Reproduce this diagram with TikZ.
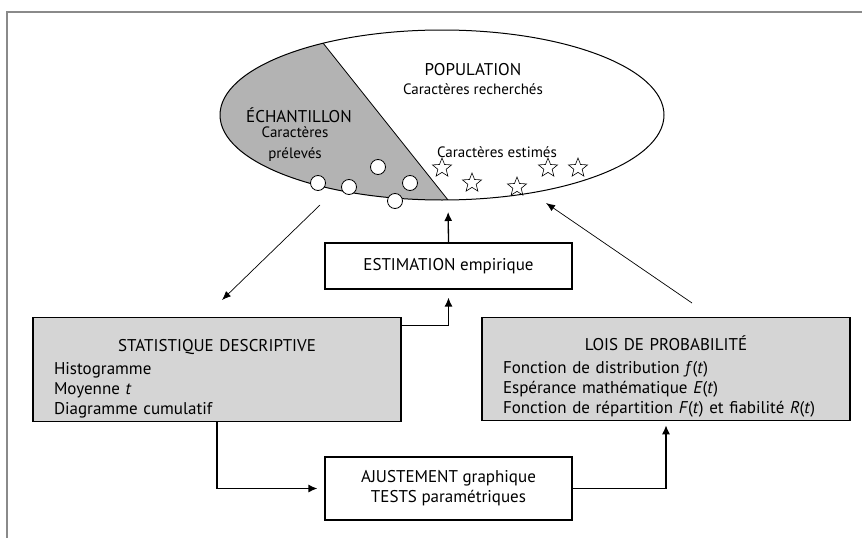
\documentclass[tikz,border=0pt]{standalone}
\usepackage{fontspec}
\setmainfont{PT Sans}
\usetikzlibrary{shapes.geometric,arrows.meta}
\definecolor{sampgrey}{HTML}{B3B3B3}
\definecolor{boxgrey}{HTML}{D5D5D5}
\definecolor{framegrey}{HTML}{8A8A8A}

\begin{document}
\begin{tikzpicture}[x=1pt, y=-1pt,
  whitebox/.style={draw, line width=1.2pt, minimum width=247pt, align=center,
    font=\fontsize{17}{20}\selectfont},
  greybox/.style={draw, line width=1.2pt, fill=boxgrey, text width=326pt,
    inner xsep=21pt, minimum height=99pt, align=left,
    font=\fontsize{17}{20}\selectfont},
  bigtxt/.style={font=\fontsize{17}{20}\selectfont},
  smalltxt/.style={font=\fontsize{15}{21}\selectfont, align=center},
  sampdot/.style={circle, draw, fill=white, line width=0.8pt, minimum size=15pt, inner sep=0pt},
  estar/.style={star, star points=5, star point ratio=2.3, draw, line width=0.6pt,
    minimum size=20pt, inner sep=0pt},
  flow/.style={line width=1.3pt, -{Latex[length=9pt,width=8pt]}},
  guess/.style={line width=0.7pt, -{Latex[length=9pt,width=7pt]}}
]
\useasboundingbox (0,0) rectangle (862,538);
\draw[framegrey, line width=2pt] (862,12) -- (7,12) -- (7,538);

%%% population and sample %%%
% path picture works from the centre of the node
\node[ellipse, draw, line width=1pt, minimum width=444pt, minimum height=170pt, inner sep=0pt,
  path picture={\fill[sampgrey] (-119,-72) -- (6,85) -- (-250,120) -- (-250,-110) -- cycle;
                \draw[line width=0.8pt] (-119,-72) -- (6,85);}] (pop) at (442,115) {};
\coordinate (popfoot) at (448,200);
\coordinate (sampout) at (320,205);
\coordinate (lawsin) at (546,203);

\node[bigtxt] (popname) at (473,70) {POPULATION};
\node[smalltxt] (popcar) at (473,89) {Caractères recherchés};
\node[bigtxt] (sampname) at (299,115) {ÉCHANTILLON};
\node[smalltxt] (sampcar) at (295,144) {Caractères\\prélevés};
\node[smalltxt] (estcar) at (497,152) {Caractères estimés};

\foreach \x/\y [count=\i] in {318/183, 349/187, 378/167, 410/183, 395/201}
  \node[sampdot] (dot\i) at (\x,\y) {};
\foreach \x/\y [count=\i] in {442/168, 472/183, 517/187, 548/168, 578/168}
  \node[estar] (star\i) at (\x,\y) {};

%%% boxes %%%
\node[whitebox, minimum height=46pt] (estim) at (448.5,266) {ESTIMATION empirique};
\node[greybox] (stat) at (217,369.5)
  {\rule{0pt}{30pt}\hfill STATISTIQUE DESCRIPTIVE\hfill\mbox{}\\[3pt]
   Histogramme\\ Moyenne \textit{t}\\ Diagramme cumulatif};
\node[greybox] (lois) at (666,369)
  {\rule{0pt}{30pt}\hfill LOIS DE PROBABILITÉ\hfill\mbox{}\\[3pt]
   Fonction de distribution \textit{f}(\textit{t})\\
   Espérance mathématique \textit{E}(\textit{t})\\
   Fonction de répartition \textit{F}(\textit{t}) et fiabilité \textit{R}(\textit{t})};
\node[whitebox, minimum height=63pt] (ajust) at (448.5,488.5) {AJUSTEMENT graphique\\ TESTS paramétriques};
\coordinate (statin) at (222,300);
\coordinate (loisout) at (692,303);

%%% connectors %%%
\draw[flow, shorten >=12pt] (estim.north) -- (popfoot);
\draw[flow, shorten >=8pt] ([yshift=-8pt]stat.north east) -| (estim.south);
\draw[flow, shorten >=7pt] (stat.south) |- (ajust.west);
\draw[flow, shorten >=4pt] (ajust.east) -| (lois.south);
\draw[guess] (sampout) -- (statin);
\draw[guess] (loisout) -- (lawsin);

\end{tikzpicture}
\end{document}
